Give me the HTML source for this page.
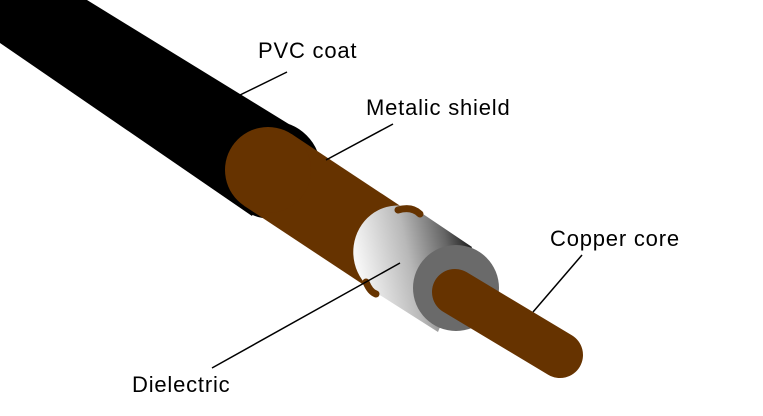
<!DOCTYPE html>
<html><head><style>
html,body{margin:0;padding:0;background:#fff;}
svg{display:block}
text{font-family:"Comic Sans MS","Liberation Sans",sans-serif;font-size:22px;letter-spacing:0.8px;fill:#000}
</style></head><body>
<svg width="763" height="416" viewBox="0 0 763 416" xmlns="http://www.w3.org/2000/svg">
<defs>
<linearGradient id="dg" gradientUnits="userSpaceOnUse" x1="358" y1="262" x2="468" y2="238">
<stop offset="0" stop-color="#f6f6f6"/><stop offset="0.45" stop-color="#b8b8b8"/><stop offset="0.8" stop-color="#666"/><stop offset="1" stop-color="#222"/>
</linearGradient>
</defs>
<!-- PVC -->
<polygon points="0,0 87,0 292,126 252,216 0,43" fill="#000"/>
<circle cx="272" cy="170" r="49" fill="#000"/>
<!-- shield -->
<line x1="268" y1="170" x2="392" y2="252" stroke="#663300" stroke-width="86"/>
<circle cx="268" cy="170" r="43" fill="#663300"/>
<!-- dielectric -->
<path d="M420,212 A40,42 0 0 0 375,292 L438,332 L472,247 Z" fill="url(#dg)"/>
<path d="M398,210 Q412,206 420,214" stroke="#663300" stroke-width="7" fill="none" stroke-linecap="round"/>
<path d="M366,282 Q370,292 376,294" stroke="#663300" stroke-width="7" fill="none" stroke-linecap="round"/>
<circle cx="456" cy="288" r="43" fill="#6a6a6a"/>
<!-- copper core -->
<line x1="455" y1="292" x2="560" y2="355" stroke="#663300" stroke-width="46" stroke-linecap="round"/>
<!-- leaders -->
<line x1="287" y1="72" x2="240" y2="95" stroke="#000" stroke-width="1.5"/>
<line x1="393" y1="124" x2="326" y2="160" stroke="#000" stroke-width="1.5"/>
<line x1="582" y1="255" x2="533" y2="312" stroke="#000" stroke-width="1.5"/>
<line x1="212" y1="368" x2="400" y2="263" stroke="#000" stroke-width="1.5"/>
<text x="258" y="58">PVC coat</text>
<text x="366" y="115">Metalic shield</text>
<text x="550" y="246">Copper core</text>
<text x="132" y="392">Dielectric</text>
</svg>
</body></html>
